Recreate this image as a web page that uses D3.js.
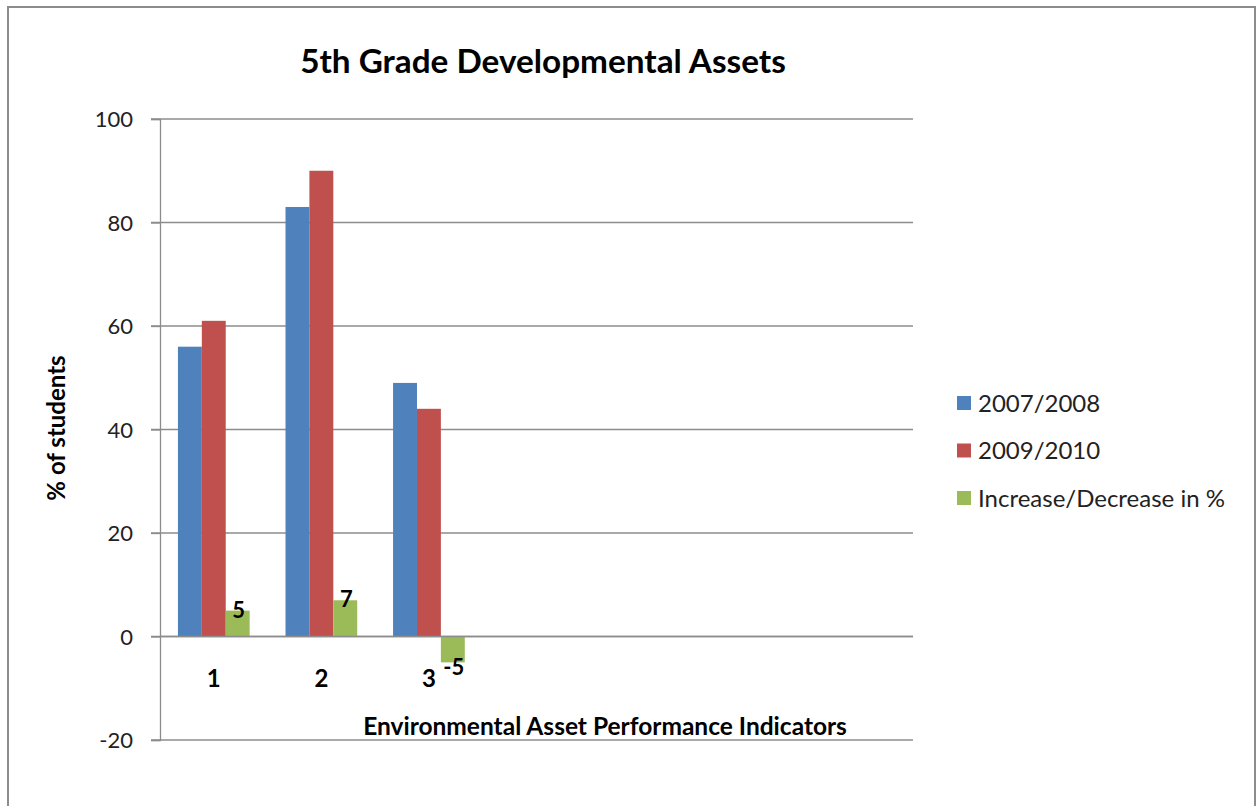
<!DOCTYPE html>
<html><head><meta charset="utf-8">
<script src="https://cdn.jsdelivr.net/npm/d3@7"></script>
<style>body{margin:0;background:#fff;} svg{display:block;}</style>
</head><body>
<svg id="c" width="1257" height="806"></svg>
<script>
const title = "5th Grade Developmental Assets";
const categories = ["1", "2", "3"];
const slotCount = 7; // category axis has 7 slots, 4 empty
const seriesNames = ["2007/2008", "2009/2010", "Increase/Decrease in %"];
const values2007 = [56, 83, 49];
const values2009 = [61, 90, 44];
const valuesChange = [5, 7, -5];
const yTicks = [-20, 0, 20, 40, 60, 80, 100];
const yTickLabels = ["-20", "0", "20", "40", "60", "80", "100"];
const colors = ["#4F81BD", "#C0504D", "#9BBB59"];
const yTitle = "% of students";
const xTitle = "Environmental Asset Performance Indicators";

const series = [values2007, values2009, valuesChange];
const font = "Lato, 'Open Sans', sans-serif";
const svg = d3.select("#c");

// outer frame
svg.append("rect").attr("x", 8).attr("y", 7).attr("width", 1247).attr("height", 820)
  .attr("fill", "#fff").attr("stroke", "#8c8c8c").attr("stroke-width", 2);

const L = 160, R = 913, T = 119, B = 740;
const y = d3.scaleLinear().domain([-20, 100]).range([B, T]);
const x = d3.scaleBand().domain(d3.range(slotCount)).range([L, R]).paddingInner(1/3).paddingOuter(1/6);
const xs = d3.scaleBand().domain(d3.range(series.length)).range([0, x.bandwidth()]);

// gridlines
svg.append("g").selectAll("line").data(yTicks).join("line")
  .attr("x1", L - 9).attr("x2", R).attr("y1", d => y(d)).attr("y2", d => y(d))
  .attr("stroke", "#8c8c8c").attr("stroke-width", 1.3);

// y axis
const yAxis = d3.axisLeft(y).tickValues(yTicks).tickSize(9).tickPadding(18)
  .tickFormat((d, i) => yTickLabels[i]);
const gy = svg.append("g").attr("transform", `translate(${L},0)`).call(yAxis);
gy.select(".domain").attr("stroke", "#8c8c8c").attr("stroke-width", 1.3);
gy.selectAll(".tick line").attr("stroke", "#8c8c8c").attr("stroke-width", 1.3);
gy.selectAll(".tick text").attr("font-family", font).attr("font-size", 22).attr("fill", "#222").attr("dy", "0.36em");

// bars
series.forEach((vals, s) => {
  svg.append("g").selectAll("rect").data(vals).join("rect")
    .attr("x", (d, i) => x(i) + xs(s))
    .attr("width", xs.bandwidth())
    .attr("y", d => y(Math.max(0, d)))
    .attr("height", d => Math.abs(y(d) - y(0)))
    .attr("fill", colors[s]);
});

// zero line
svg.append("line").attr("x1", L).attr("x2", R).attr("y1", y(0)).attr("y2", y(0))
  .attr("stroke", "#8c8c8c").attr("stroke-width", 1.3);

// data labels on change series
svg.append("g").selectAll("text").data(valuesChange).join("text")
  .attr("x", (d, i) => x(i) + xs(2) + xs.bandwidth() / 2 + 1)
  .attr("y", d => d >= 0 ? y(d) + 7 : y(d) + 13)
  .attr("text-anchor", "middle").attr("font-family", font).attr("font-weight", "bold")
  .attr("font-size", 22).attr("fill", "#000").text(d => String(d));

// category labels
svg.append("g").selectAll("text").data(categories).join("text")
  .attr("x", (d, i) => x(i) + x.bandwidth() / 2)
  .attr("y", 687)
  .attr("text-anchor", "middle").attr("font-family", font).attr("font-weight", "bold")
  .attr("font-size", 24).attr("fill", "#000").text(d => d);

// title
svg.append("text").attr("x", 543).attr("y", 73).attr("text-anchor", "middle")
  .attr("font-family", font).attr("font-weight", "bold").attr("font-size", 33.3).attr("fill", "#000").text(title);

// axis titles
svg.append("text").attr("x", 605).attr("y", 735).attr("text-anchor", "middle")
  .attr("font-family", font).attr("font-weight", "bold").attr("font-size", 24.5).attr("fill", "#000").text(xTitle);
svg.append("text").attr("transform", "translate(65,428) rotate(-90)").attr("text-anchor", "middle")
  .attr("font-family", font).attr("font-weight", "bold").attr("font-size", 24).attr("fill", "#000").text(yTitle);

// legend
const lg = svg.append("g").selectAll("g").data(seriesNames).join("g")
  .attr("transform", (d, i) => `translate(957,${403 + i * 47.5})`);
lg.append("rect").attr("x", 0).attr("y", -7).attr("width", 14).attr("height", 14).attr("fill", (d, i) => colors[i]);
lg.append("text").attr("x", 21).attr("y", 0).attr("dy", "0.36em").attr("font-family", font)
  .attr("font-size", 24).attr("fill", "#222").text(d => d);
</script>
</body></html>
